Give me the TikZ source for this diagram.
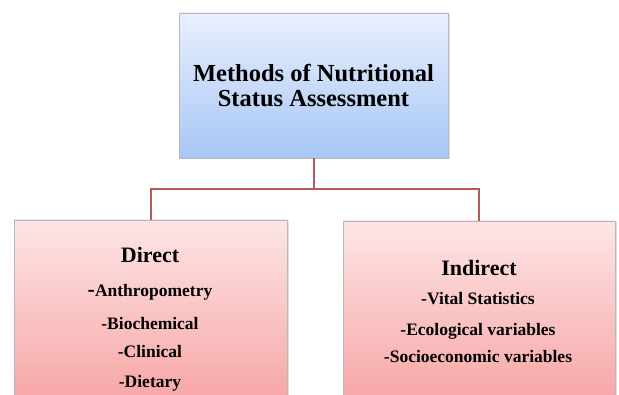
\documentclass[tikz,border=0pt]{standalone}
\usepackage{fontspec}
\setmainfont{Liberation Serif}
\usetikzlibrary{shadows}
\definecolor{bluetop}{HTML}{EAF0FC}
\definecolor{bluebot}{HTML}{A7C6F6}
\definecolor{pinktop}{HTML}{FDE5E5}
\definecolor{pinkbot}{HTML}{F58C8C}
\definecolor{linkred}{HTML}{B55A5C}
\tikzset{
  box/.style={draw=gray!55, line width=0.8pt, inner sep=0pt,
    drop shadow={shadow xshift=1.5pt, shadow yshift=-1.5pt, opacity=0.25}},
  headbox/.style={box, top color=bluetop, bottom color=bluebot},
  branchbox/.style={box, top color=pinktop, bottom color=pinkbot},
  link/.style={draw=linkred, line width=2pt},
  heading/.style={font=\bfseries\fontsize{22}{22}\selectfont, anchor=base, text=black},
  item/.style={font=\bfseries\fontsize{17.5}{17.5}\selectfont, anchor=base, text=black}
}
\begin{document}
\begin{tikzpicture}[x=1pt, y=1pt]
\useasboundingbox (0,0) rectangle (619,394);
\clip (0,0) rectangle (619,394);
\fill[white] (0,0) rectangle (619,394);

% main box
\node[headbox, minimum width=269pt, minimum height=145pt, align=center,
  font=\bfseries\fontsize{24.5}{25}\selectfont] (top) at (313.5,308.5)
  {Methods of Nutritional\\Status Assessment};

% the two branches, running past the lower edge
\node[branchbox, minimum width=273pt, minimum height=254pt] (left) at (150.5,47) {};
\node[branchbox, minimum width=272pt, minimum height=254pt] (right) at (479,46) {};

% connectors
\coordinate (j) at (top.south |- 0,205);
\draw[link] (top.south) -- (j);
\draw[link] (left.north) -- (left.north |- j) -- (right.north |- j) -- (right.north);

% direct methods
\node[heading] (d0) at (150,131) {Direct};
\node[item] (d1) at (150,97) {{\fontsize{22}{22}\selectfont -}Anthropometry};
\node[item] (d2) at (150,64) {-Biochemical};
\node[item] (d3) at (150,36) {-Clinical};
\node[item] (d4) at (150,7) {-Dietary};

% indirect methods
\node[heading] (i0) at (479,118) {Indirect};
\node[item] (i1) at (478,89) {-Vital Statistics};
\node[item] (i2) at (478,59) {-Ecological variables};
\node[item] (i3) at (478,31) {-Socioeconomic variables};
\end{tikzpicture}
\end{document}
